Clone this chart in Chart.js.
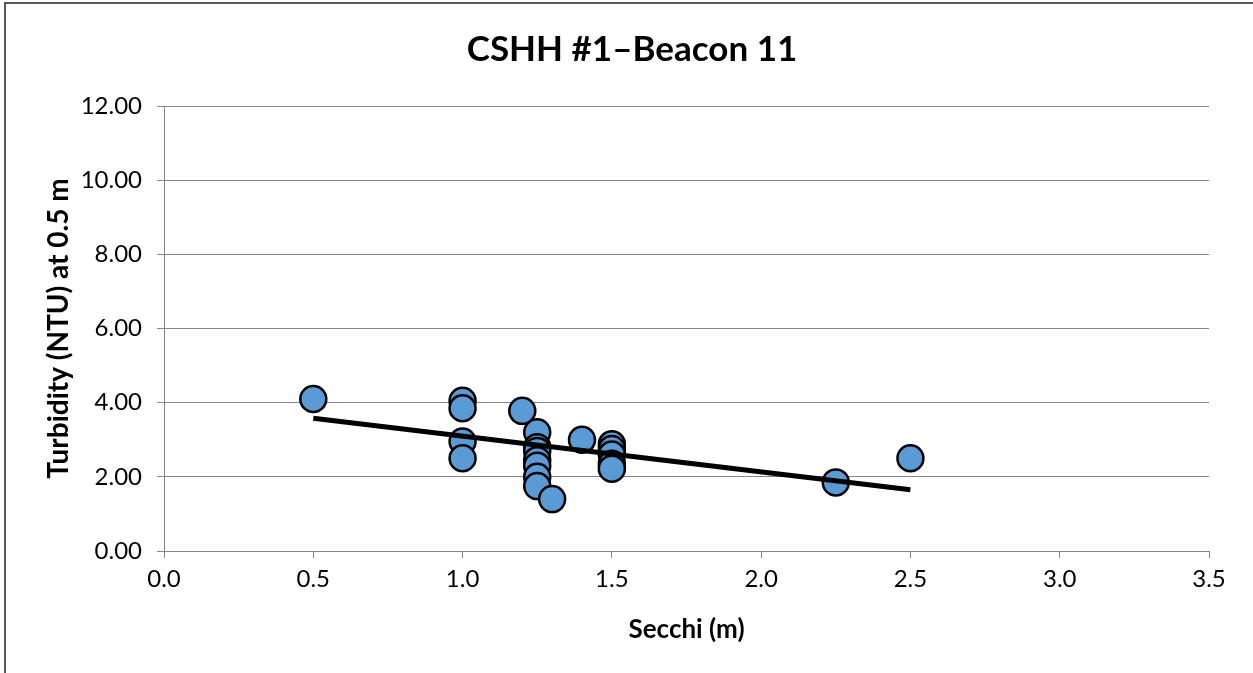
<!DOCTYPE html>
<html>
<head>
<meta charset="utf-8">
<script src="https://cdn.jsdelivr.net/npm/chart.js"></script>
<style>
  html, body { margin: 0; padding: 0; background: #fff; }
  #wrap { width: 1253px; height: 673px; }
</style>
</head>
<body>
<div id="wrap"><canvas id="chart" width="1253" height="673"></canvas></div>
<script>
// values
const secchi    = [0.5, 1.0, 1.0, 1.0, 1.0, 1.2, 1.25, 1.25, 1.25, 1.25, 1.25, 1.25, 1.25, 1.3, 1.4, 1.5, 1.5, 1.5, 1.5, 1.5, 2.25, 2.5];
const turbidity = [4.10, 4.05, 3.85, 2.95, 2.50, 3.78, 3.20, 2.80, 2.70, 2.45, 2.30, 2.00, 1.75, 1.40, 3.00, 2.88, 2.75, 2.60, 2.35, 2.22, 1.85, 2.50];
const trendX = [0.5, 2.5];
const trendY = [3.58, 1.65];
const xTicks = [0, 0.5, 1.0, 1.5, 2.0, 2.5, 3.0, 3.5];
const yTicks = [0, 2, 4, 6, 8, 10, 12];

const FONT = "Lato, 'Open Sans', sans-serif";
const GRID = "#868686";

const frame = {
  id: "frame",
  afterDraw(chart) {
    const ctx = chart.ctx;
    ctx.save();
    ctx.strokeStyle = "#595959";
    ctx.lineWidth = 2;
    ctx.beginPath();
    ctx.moveTo(5, 673);
    ctx.lineTo(5, 3);
    ctx.lineTo(1253, 3);
    ctx.stroke();
    ctx.restore();
  }
};

function makeChart() {
  const ctx = document.getElementById("chart").getContext("2d");
  return new Chart(ctx, {
    type: "scatter",
    data: {
      datasets: [
        {
          label: "Trend",
          data: trendX.map((x, i) => ({ x: x, y: trendY[i] })),
          showLine: true,
          borderColor: "#000",
          borderWidth: 5,
          pointRadius: 0,
          order: 0,
        },
        {
          label: "Turbidity",
          data: secchi.map((x, i) => ({ x: x, y: turbidity[i] })),
          backgroundColor: "#5B9BD5",
          borderColor: "#000",
          borderWidth: 2.5,
          pointRadius: 13,
          order: 1,
        },
      ],
    },
    options: {
      responsive: false,
      animation: false,
      layout: { padding: { left: 11, right: 0, top: 0, bottom: 0 } },
      plugins: {
        legend: { display: false },
        tooltip: { enabled: false },
        title: {
          display: true,
          text: "CSHH #1\u2013Beacon 11",
          color: "#000",
          font: { family: FONT, size: 35, weight: "bold" },
          padding: { top: 29, bottom: 35 },
        },
      },
      scales: {
        x: {
          type: "linear",
          min: 0,
          max: 3.5,
          afterBuildTicks: (s) => { s.ticks = xTicks.map((v) => ({ value: v })); },
          afterFit: (s) => { s.height = 122; },
          ticks: {
            color: "#000",
            font: { family: FONT, size: 24 },
            padding: 7,
            maxRotation: 0,
            callback: (v) => Number(v).toFixed(1),
          },
          grid: { drawOnChartArea: false, drawTicks: true, tickLength: 7, color: GRID },
          border: { color: GRID, width: 1 },
          title: {
            display: true,
            text: "Secchi (m)",
            color: "#000",
            font: { family: FONT, size: 26, weight: "bold" },
            padding: { top: 0, bottom: 28 },
          },
        },
        y: {
          type: "linear",
          min: 0,
          max: 12,
          afterBuildTicks: (s) => { s.ticks = yTicks.map((v) => ({ value: v })); },
          afterFit: (s) => { s.width = 153; },
          ticks: {
            color: "#000",
            font: { family: FONT, size: 24 },
            padding: 15,
            callback: (v) => Number(v).toFixed(2),
          },
          grid: { color: GRID, tickLength: 7 },
          border: { color: GRID, width: 1 },
          title: {
            display: true,
            text: "Turbidity (NTU) at 0.5 m",
            color: "#000",
            font: { family: FONT, size: 28, weight: "bold" },
            padding: { top: 31, bottom: 0 },
          },
        },
        // empty right-hand axis that only holds the space right of the plot
        yRight: {
          type: "linear",
          position: "right",
          display: true,
          afterFit: (s) => { s.width = 44; },
          ticks: { display: false },
          grid: { display: false },
          border: { display: false },
        },
      },
    },
    plugins: [frame],
  });
}

makeChart();
</script>
</body>
</html>
